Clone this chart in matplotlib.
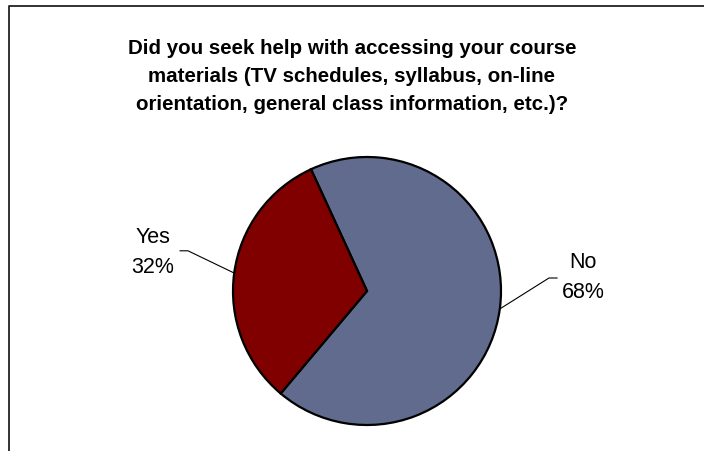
import matplotlib
matplotlib.use('Agg')
import matplotlib.pyplot as plt
from matplotlib.lines import Line2D
import numpy as np

plt.rcParams['font.family'] = ['Liberation Sans', 'DejaVu Sans']

# data
labels = ['No', 'Yes']
percents = [68, 32]
colors = ['#606b8e', '#800000']
title = ('Did you seek help with accessing your course\n'
         'materials (TV schedules, syllabus, on-line\n'
         'orientation, general class information, etc.)?')

W, H = 704, 452
fig = plt.figure(figsize=(W / 100, H / 100), dpi=100)

# chart border (left and top visible)
fig.add_artist(Line2D([9 / W, 9 / W, 1.0], [0.0, 1 - 7 / H, 1 - 7 / H],
                      transform=fig.transFigure, color='#222222', lw=1.3))

fig.text(0.5, 1 - 77 / H, title, ha='center', va='center',
         fontsize=14.8, fontweight='bold', linespacing=1.6)

# pie axes: centre (367, 292) px, radius 134 px
cx, cy, r = 367, 292, 134
ax = fig.add_axes([(cx - r) / W, (H - cy - r) / H, 2 * r / W, 2 * r / H])
start = 229.9
wedges, _ = ax.pie(percents, colors=colors, startangle=start, counterclock=True,
                   radius=1.0,
                   wedgeprops=dict(edgecolor='black', linewidth=1.6))
ax.set_xlim(-1, 1)
ax.set_ylim(-1, 1)
ax.set_aspect('equal')
ax.axis('off')

# labels with leader lines (positions in units of radius)
label_pos = {'No': (1.615, 0.11), 'Yes': (-1.60, 0.295)}
elbow = {'No': ((1.358, 0.097), (1.418, 0.097)),
         'Yes': ((-1.336, 0.30), (-1.395, 0.30))}
for w, lab, p in zip(wedges, labels, percents):
    mid = np.deg2rad((w.theta1 + w.theta2) / 2)
    ex, ey = np.cos(mid), np.sin(mid)
    (bx, by), (tx, ty) = elbow[lab]
    ax.add_line(Line2D([ex, bx, tx], [ey, by, ty], color='black', lw=0.8,
                       clip_on=False))
    lx, ly = label_pos[lab]
    ax.text(lx, ly, f'{lab}\n{p}%', ha='center', va='center', fontsize=15.5,
            linespacing=1.55, clip_on=False)

fig.savefig('out.png', dpi=100)
